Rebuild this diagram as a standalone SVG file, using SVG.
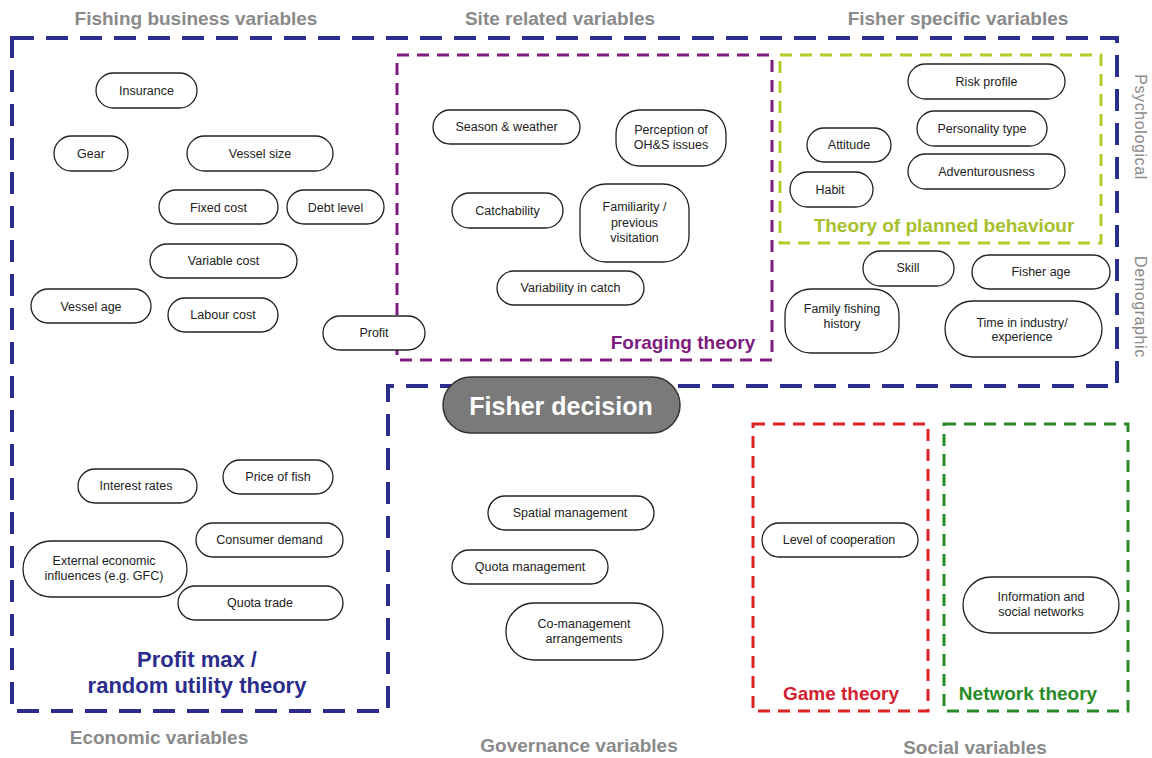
<svg xmlns="http://www.w3.org/2000/svg" width="1152" height="758" viewBox="0 0 1152 758">
<defs>
<style>
.bg{fill:#ffffff}
.pill{fill:#ffffff;stroke:#222;stroke-width:1.3}
.t{font-family:"Liberation Sans",Arial,sans-serif;font-size:12.5px;fill:#222;text-anchor:middle}
.hdr{font-family:"Liberation Sans",Arial,sans-serif;font-size:19px;font-weight:bold;fill:#8a8a8a;text-anchor:middle}
.vlab{font-family:"Liberation Sans",Arial,sans-serif;font-size:16px;fill:#8a8a8a;text-anchor:middle;letter-spacing:0.6px}
.th{font-family:"Liberation Sans",Arial,sans-serif;font-size:19px;font-weight:bold;text-anchor:middle}
.dblue{fill:none;stroke:#2b2d8c;stroke-width:4;stroke-dasharray:22 12}
.dsmall{fill:none;stroke-width:3;stroke-dasharray:12 8}
</style>
</defs>
<rect class="bg" x="0" y="0" width="1152" height="758"/>

<g id="frames">
<polygon class="dblue" points="12,38 1117,38 1117,386 388,386 388,711 12,711"/>
<rect class="dsmall" x="397" y="55" width="375" height="305" stroke="#7e1c7e"/>
<rect class="dsmall" x="780" y="55" width="321" height="188" stroke="#b2cc2a"/>
<rect class="dsmall" x="753" y="424" width="175" height="287" stroke="#dd2222"/>
<rect class="dsmall" x="944" y="424" width="184" height="287" stroke="#2a8a2a"/>
</g>

<g id="headers">
<text class="hdr" x="196" y="25">Fishing business variables</text>
<text class="hdr" x="560" y="25">Site related variables</text>
<text class="hdr" x="958" y="25">Fisher specific variables</text>
<text class="hdr" x="159" y="744">Economic variables</text>
<text class="hdr" x="579" y="752">Governance variables</text>
<text class="hdr" x="975" y="754">Social variables</text>
<text class="vlab" x="1135" y="127" transform="rotate(90 1135 127)">Psychological</text>
<text class="vlab" x="1135" y="307" transform="rotate(90 1135 307)">Demographic</text>
</g>

<g id="theories">
<text class="th" x="683" y="349" fill="#7e1c7e">Foraging theory</text>
<text class="th" x="944" y="232" fill="#a6c12c">Theory of planned behaviour</text>
<text class="th" x="197" y="667" fill="#2b2d8c" style="font-size:22px">Profit max /</text>
<text class="th" x="197" y="693" fill="#2b2d8c" style="font-size:22px">random utility theory</text>
<text class="th" x="841" y="700" fill="#d42030">Game theory</text>
<text class="th" x="1028" y="700" fill="#2a8a2a">Network theory</text>
</g>

<g id="connectors"></g>

<g id="fisher-decision">
<rect x="443" y="377" width="237" height="56" rx="28" fill="#7a7a7a" stroke="#333" stroke-width="1.5"/>
<text x="561" y="415" font-family="Liberation Sans, Arial, sans-serif" font-size="25px" font-weight="bold" fill="#ffffff" text-anchor="middle">Fisher decision</text>
</g>

<g id="n-insurance"><rect class="pill" x="96" y="73" width="101" height="35" rx="17.5"/><text class="t" x="146.5" y="95">Insurance</text></g>
<g id="n-gear"><rect class="pill" x="54" y="136" width="74" height="35" rx="17.5"/><text class="t" x="91" y="158">Gear</text></g>
<g id="n-vessel-size"><rect class="pill" x="187" y="136" width="146" height="35" rx="17.5"/><text class="t" x="260" y="158">Vessel size</text></g>
<g id="n-fixed-cost"><rect class="pill" x="159" y="190" width="119" height="34" rx="17"/><text class="t" x="218.5" y="212">Fixed cost</text></g>
<g id="n-debt-level"><rect class="pill" x="287" y="190" width="97" height="34" rx="17"/><text class="t" x="335.5" y="212">Debt level</text></g>
<g id="n-variable-cost"><rect class="pill" x="150" y="244" width="147" height="34" rx="17"/><text class="t" x="223.5" y="265">Variable cost</text></g>
<g id="n-vessel-age"><rect class="pill" x="31" y="289" width="120" height="34" rx="17"/><text class="t" x="91" y="311">Vessel age</text></g>
<g id="n-labour-cost"><rect class="pill" x="168" y="298" width="110" height="34" rx="17"/><text class="t" x="223" y="319">Labour cost</text></g>
<g id="n-profit"><rect class="pill" x="323" y="316" width="102" height="34" rx="17"/><text class="t" x="374" y="337">Profit</text></g>

<g id="n-season"><rect class="pill" x="433" y="110" width="147" height="34" rx="17"/><text class="t" x="506.5" y="131">Season &amp; weather</text></g>
<g id="n-perception"><rect class="pill" x="616" y="110" width="110" height="56" rx="24"/><text class="t" x="671" y="134">Perception of</text><text class="t" x="671" y="149">OH&amp;S issues</text></g>
<g id="n-catchability"><rect class="pill" x="452" y="193" width="111" height="35" rx="17.5"/><text class="t" x="507.5" y="215">Catchability</text></g>
<g id="n-familiarity"><rect class="pill" x="580" y="184" width="109" height="78" rx="26"/><text class="t" x="634.5" y="211">Familiarity /</text><text class="t" x="634.5" y="227">previous</text><text class="t" x="634.5" y="242">visitation</text></g>
<g id="n-variability"><rect class="pill" x="497" y="271" width="147" height="34" rx="17"/><text class="t" x="570.5" y="292">Variability in catch</text></g>

<g id="n-risk"><rect class="pill" x="908" y="64" width="157" height="35" rx="17.5"/><text class="t" x="986.5" y="86">Risk profile</text></g>
<g id="n-personality"><rect class="pill" x="917" y="111" width="130" height="35" rx="17.5"/><text class="t" x="982" y="133">Personality type</text></g>
<g id="n-attitude"><rect class="pill" x="807" y="128" width="84" height="34" rx="17"/><text class="t" x="849" y="149">Attitude</text></g>
<g id="n-adventurousness"><rect class="pill" x="908" y="154" width="157" height="35" rx="17.5"/><text class="t" x="986.5" y="176">Adventurousness</text></g>
<g id="n-habit"><rect class="pill" x="790" y="172" width="83" height="35" rx="17.5"/><text class="t" x="830" y="194">Habit</text></g>
<g id="n-skill"><rect class="pill" x="863" y="251" width="91" height="35" rx="17.5"/><text class="t" x="908" y="272">Skill</text></g>
<g id="n-fisher-age"><rect class="pill" x="972" y="255" width="138" height="34" rx="17"/><text class="t" x="1041" y="276">Fisher age</text></g>
<g id="n-family"><rect class="pill" x="785" y="289" width="114" height="64" rx="26"/><text class="t" x="842" y="313">Family fishing</text><text class="t" x="842" y="328">history</text></g>
<g id="n-time"><rect class="pill" x="945" y="301" width="157" height="56" rx="28"/><text class="t" x="1022" y="327">Time in industry/</text><text class="t" x="1022" y="341">experience</text></g>

<g id="n-interest"><rect class="pill" x="78" y="469" width="119" height="34" rx="17"/><text class="t" x="136" y="490">Interest rates</text></g>
<g id="n-price"><rect class="pill" x="223" y="460" width="110" height="34" rx="17"/><text class="t" x="278" y="481">Price of fish</text></g>
<g id="n-consumer"><rect class="pill" x="196" y="523" width="147" height="34" rx="17"/><text class="t" x="269.5" y="544">Consumer demand</text></g>
<g id="n-external"><rect class="pill" x="23" y="541" width="164" height="56" rx="28"/><text class="t" x="104" y="565">External economic</text><text class="t" x="104" y="580">influences (e.g. GFC)</text></g>
<g id="n-quota-trade"><rect class="pill" x="178" y="586" width="165" height="34" rx="17"/><text class="t" x="260" y="607">Quota trade</text></g>

<g id="n-spatial"><rect class="pill" x="488" y="496" width="166" height="34" rx="17"/><text class="t" x="570" y="517">Spatial management</text></g>
<g id="n-quota-mgmt"><rect class="pill" x="452" y="550" width="156" height="34" rx="17"/><text class="t" x="530" y="571">Quota management</text></g>
<g id="n-comanagement"><rect class="pill" x="506" y="603" width="157" height="57" rx="28"/><text class="t" x="584" y="628">Co-management</text><text class="t" x="584" y="643">arrangements</text></g>

<g id="n-cooperation"><rect class="pill" x="762" y="523" width="156" height="34" rx="17"/><text class="t" x="839" y="544">Level of cooperation</text></g>
<g id="n-information"><rect class="pill" x="963" y="577" width="156" height="56" rx="28"/><text class="t" x="1041" y="601">Information and</text><text class="t" x="1041" y="616">social networks</text></g>
</svg>
